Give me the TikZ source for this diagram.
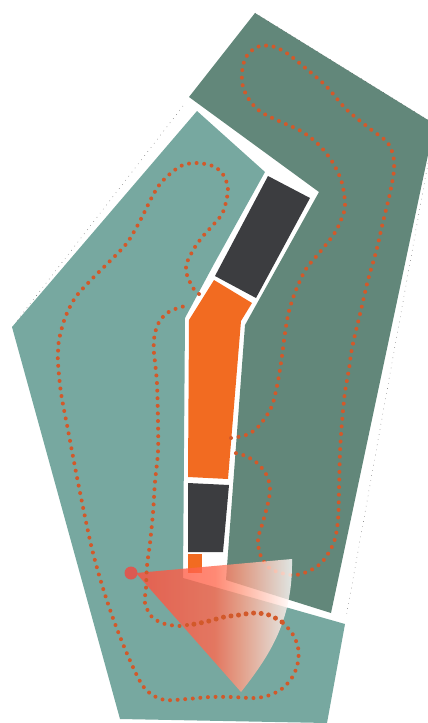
\documentclass[tikz,border=0pt]{standalone}
\definecolor{greenD}{HTML}{62877A}
\definecolor{tealL}{HTML}{77A8A0}
\definecolor{orangeF}{HTML}{F26B21}
\definecolor{darkF}{HTML}{3C3D40}
\definecolor{dotC}{HTML}{D2592A}
\definecolor{redP}{HTML}{DB5A52}
\pgfdeclarehorizontalshading{wedgeshade}{100bp}{
  rgb(0bp)=(1,.31,.24); rgb(25bp)=(1,.31,.24); rgb(50bp)=(1,.42,.32);
  rgb(58.4bp)=(1,.62,.52); rgb(75bp)=(1,1,1); rgb(100bp)=(1,1,1)}
\tikzset{
  route/.style={dotC,line width=4pt,line cap=round,dash pattern=on 0pt off 7.6pt},
  routebig/.style={dotC,line width=5pt,line cap=round,dash pattern=on 0pt off 7.6pt},
  guide/.style={black!65,line width=.45pt,dash pattern=on .6pt off 4.6pt},
  smoothline/.style={smooth,tension=.55}
}
\begin{document}
\begin{tikzpicture}[x=1pt,y=-1pt]
\useasboundingbox (0,0) rectangle (428,723);
\clip (0,0) rectangle (428,723);
% fields
\fill[greenD] (189,97) -- (255,13) -- (428,120) -- (428,155) -- (331,613) -- (226,580) -- (245,325) -- (319,192) -- cycle;
\fill[tealL] (197,111) -- (265,172) -- (214,264) -- (185,318) -- (183,578) -- (345,624) -- (327,723) -- (120,719) -- (12,327) -- cycle;
% guides
\draw[guide] (183,106) -- (16,322);
\draw[guide] (428,163) -- (346,618);
\draw[guide] (255,13) -- (428,120);
% buildings
\fill[darkF] (268,176) -- (310,198) -- (256,298) -- (215,276) -- cycle;
\fill[orangeF] (214,280) -- (252,303) -- (241,321) -- (228,479) -- (188,477) -- (189,320) -- cycle;
\fill[darkF] (188,483) -- (229,485) -- (223,552) -- (188,552) -- cycle;
\fill[orangeF] (188,554) -- (202,554) -- (202,573) -- (188,573) -- cycle;
% route under the wedge
\draw[route] plot[smoothline] coordinates {(231,438) (246,435) (258,427) (271,408) (277,386) (281,363) (282,356) (285,333) (289,311) (296,290) (306,269) (320,252) (334,234) (341,220) (345,206) (342,183) (333,163) (319,145) (301,131) (281,122) (261,112) (250,101) (243,87) (242,72) (246,57) (257,47) (271,46) (285,52) (303,66) (326,86) (346,109) (369,128) (387,142) (393,155) (394,170) (390,193) (383,222) (376,252) (368,280) (361,310) (354,339) (351,354) (349,369) (345,392) (342,422) (340,452) (339,490) (338,520) (334,542) (323,561) (311,570) (296,575) (281,573) (268,567) (260,554) (258,539) (262,525) (268,503) (270,488) (266,474) (256,462) (243,455) (235,453)};
% wedge
\shade[shading=wedgeshade,opacity=.8] (136,573) -- (292,559) .. controls (293,620) and (270,655) .. (241,692) -- cycle;
% route over the wedge
\draw[route] plot[smoothline] coordinates {(199,294) (193,288) (187,275) (186,267) (188,260) (195,247) (204,235) (214,224) (223,212) (228,190) (224,176) (219,170) (213,166) (198,163) (183,165) (171,173) (160,184) (152,197) (142,217) (135,230) (127,243) (117,254) (106,265) (90,281) (75,298) (65,318) (59,340) (58,355) (58,363) (61,393) (68,430) (75,467) (84,512) (92,549) (102,585) (114,621) (128,656) (141,683) (151,694) (165,700) (187,699) (210,697) (232,697) (255,698) (270,695) (283,688) (293,676) (298,662) (298,647) (292,633) (282,622)};
\draw[routebig] plot[smoothline] coordinates {(282,622) (269,615) (254,613) (239,615) (224,617) (209,621) (195,624) (187,625)};
\draw[route] plot[smoothline] coordinates {(187,625) (180,626) (165,624) (152,617) (145,603) (146,588) (147,566) (150,543) (153,513) (155,482) (158,452) (158,422) (157,384) (155,362) (154,354) (154,339) (158,324) (167,313) (181,307) (189,306)};
% viewpoint
\fill[redP] (131,573) circle (6.5);
\end{tikzpicture}
\end{document}
